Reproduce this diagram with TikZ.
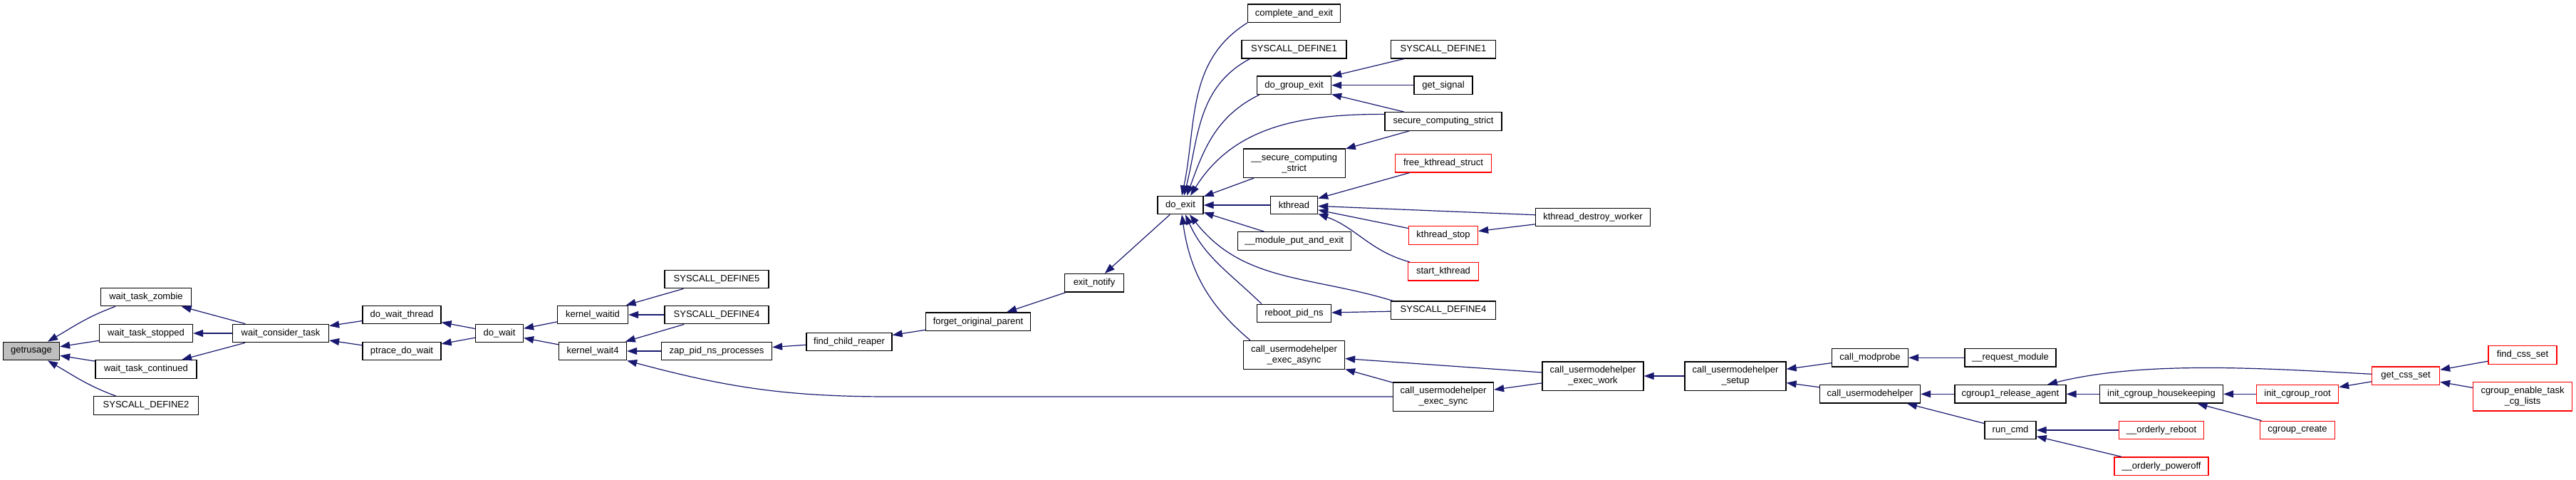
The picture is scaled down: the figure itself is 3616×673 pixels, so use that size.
\documentclass[tikz,border=0pt]{standalone}
\usepackage{fontspec}
\setmainfont{Liberation Sans}
\usetikzlibrary{arrows.meta}

\definecolor{edgeblue}{HTML}{191970}
\definecolor{rootgray}{HTML}{BFBFBF}

\tikzset{every picture/.style={line width=0.75pt}}
\tikzset{
	fn/.style={draw=black, line width=1.3pt, fill=white, inner sep=0pt, minimum height=25.5pt, align=center, font=\fontsize{13}{15}\selectfont},
	fntwo/.style={fn, minimum height=40.3pt},
	fnred/.style={fn, draw=red},
	fnroot/.style={fn, fill=rootgray},
	call/.style={draw=edgeblue, line width=1.2pt, -{Triangle[length=14pt,width=10pt]}}
}

\begin{document}
\begin{tikzpicture}[x=1pt,y=1pt,yscale=-1,xscale=1]
				\useasboundingbox (0,0) rectangle (3616,673);
				
				% Nodes: wait side
				\node[fnroot, minimum width=79pt] (getrusage) at (44,493) {getrusage};
				\node[fn, minimum width=127pt] (zombie) at (205,417) {wait\_task\_zombie};
				\node[fn, minimum width=131pt] (stopped) at (205,468) {wait\_task\_stopped};
				\node[fn, minimum width=142pt] (continued) at (205,518.5) {wait\_task\_continued};
				\node[fn, minimum width=147pt] (sd2) at (205,569.5) {SYSCALL\_DEFINE2};
				\node[fn, minimum width=135pt] (wct) at (394,468) {wait\_consider\_task};
				\node[fn, minimum width=110pt] (dwt) at (564,442) {do\_wait\_thread};
				\node[fn, minimum width=110pt] (ptrace) at (564,493) {ptrace\_do\_wait};
				\node[fn, minimum width=67pt] (dowait) at (701,468) {do\_wait};
				\node[fn, minimum width=99pt] (waitid) at (832,442) {kernel\_waitid};
				\node[fn, minimum width=95pt] (wait4) at (832,493) {kernel\_wait4};
				\node[fn, minimum width=146pt] (sd5) at (1006,392) {SYSCALL\_DEFINE5};
				\node[fn, minimum width=146pt] (sd4a) at (1006,442) {SYSCALL\_DEFINE4};
				\node[fn, minimum width=155pt] (zap) at (1006,493) {zap\_pid\_ns\_processes};
				\node[fn, minimum width=120pt] (fcr) at (1192,480) {find\_child\_reaper};
				\node[fn, minimum width=147pt] (fop) at (1373,451.7) {forget\_original\_parent};
				\node[fn, minimum width=83pt] (exitn) at (1536,397.3) {exit\_notify};
				\node[fn, minimum width=64pt] (doexit) at (1657,288) {do\_exit};
				
				% Nodes: callers of do_exit
				\node[fn, minimum width=130pt] (cae) at (1816.5,18.7) {complete\_and\_exit};
				\node[fn, minimum width=147pt] (sd1a) at (1816.5,69.3) {SYSCALL\_DEFINE1};
				\node[fn, minimum width=104pt] (dge) at (1816.5,119.7) {do\_group\_exit};
				\node[fntwo, minimum width=143pt] (sscs) at (1816.7,229.2) {\_\_secure\_computing\\\_strict};
				\node[fn, minimum width=66pt] (kthread) at (1816.5,288) {kthread};
				\node[fn, minimum width=159pt] (mpe) at (1816.7,338.5) {\_\_module\_put\_and\_exit};
				\node[fn, minimum width=104pt] (rpns) at (1816.5,440) {reboot\_pid\_ns};
				\node[fntwo, minimum width=142pt] (cuea) at (1816.5,498.5) {call\_usermodehelper\\\_exec\_async};
				
				\node[fn, minimum width=147pt] (sd1b) at (2026,69.3) {SYSCALL\_DEFINE1};
				\node[fn, minimum width=82pt] (getsig) at (2026,119.7) {get\_signal};
				\node[fn, minimum width=164pt] (scs) at (2026,170.5) {secure\_computing\_strict};
				\node[fnred, minimum width=135pt] (fks) at (2026,229.3) {free\_kthread\_struct};
				\node[fnred, minimum width=97pt] (kstop) at (2026,330.5) {kthread\_stop};
				\node[fnred, minimum width=99pt] (skt) at (2026,381.3) {start\_kthread};
				\node[fn, minimum width=147pt] (sd4b) at (2026,435.7) {SYSCALL\_DEFINE4};
				\node[fntwo, minimum width=141pt] (cues) at (2026,557) {call\_usermodehelper\\\_exec\_sync};
				
				\node[fn, minimum width=161pt] (kdw) at (2236,305) {kthread\_destroy\_worker};
				\node[fntwo, minimum width=142pt] (cuew) at (2236,528) {call\_usermodehelper\\\_exec\_work};
				\node[fntwo, minimum width=142pt] (cus) at (2436,528) {call\_usermodehelper\\\_setup};
				
				% Nodes: usermodehelper callers
				\node[fn, minimum width=107pt] (modprobe) at (2625,502.3) {call\_modprobe};
				\node[fn, minimum width=141pt] (cuh) at (2625,553.3) {call\_usermodehelper};
				\node[fn, minimum width=128pt] (reqmod) at (2822,502.3) {\_\_request\_module};
				\node[fn, minimum width=156pt] (cra) at (2822,553.3) {cgroup1\_release\_agent};
				\node[fn, minimum width=72pt] (runcmd) at (2822,604) {run\_cmd};
				\node[fn, minimum width=173pt] (ich) at (3034,553.3) {init\_cgroup\_housekeeping};
				\node[fnred, minimum width=119pt] (oreboot) at (3034,604) {\_\_orderly\_reboot};
				\node[fnred, minimum width=132pt] (opoweroff) at (3034,654.7) {\_\_orderly\_poweroff};
				\node[fnred, minimum width=115pt] (icr) at (3225,553.3) {init\_cgroup\_root};
				\node[fnred, minimum width=105pt] (ccreate) at (3225,604) {cgroup\_create};
				\node[fnred, minimum width=95pt] (gcs) at (3377,527.8) {get\_css\_set};
				\node[fnred, minimum width=96pt] (fcs) at (3541,498.5) {find\_css\_set};
				\node[fnred, minimum width=139pt, minimum height=40.3pt] (cetcl) at (3541,556.8) {cgroup\_enable\_task\\\_cg\_lists};
				
				% Edges into getrusage (angles are flipped by yscale=-1)
				\draw[call] ([xshift=21pt]zombie.south west) to[out=160,in=-30] ([xshift=23pt]getrusage.north);
				\draw[call] (stopped) -- (getrusage);
				\draw[call] (continued) -- (getrusage);
				\draw[call] ([xshift=32pt]sd2.north west) to[out=200,in=30] ([xshift=23pt]getrusage.south);
				% wait chain
				\draw[call] (wct) -- (zombie);
				\draw[call] (wct) -- (stopped);
				\draw[call] (wct) -- (continued);
				\draw[call] (dwt) -- (wct);
				\draw[call] (ptrace) -- (wct);
				\draw[call] (dowait) -- (dwt);
				\draw[call] (dowait) -- (ptrace);
				\draw[call] (waitid) -- (dowait);
				\draw[call] (wait4) -- (dowait);
				\draw[call] (sd5) -- (waitid);
				\draw[call] (sd4a) -- (waitid);
				\draw[call] (sd4a) -- (wait4);
				\draw[call] (zap) -- (wait4);
				\draw[call] (cues.west) -- ++(-705,0) to[out=180,in=15] (wait4.south east);
				\draw[call] (fcr) -- (zap);
				\draw[call] (fop) -- (fcr);
				\draw[call] (exitn) -- (fop);
				\draw[call] (doexit) -- (exitn);
				% into do_exit
				\draw[call] (cae.south west) to[out=148,in=-78] ([xshift=2pt]doexit.north);
				\draw[call] ([xshift=12pt]sd1a.south west) to[out=152,in=-76] ([xshift=5pt]doexit.north);
				\draw[call] ([xshift=4pt]dge.south west) to[out=154,in=-70] ([xshift=9pt]doexit.north);
				\draw[call] (scs.173) to[out=180,in=-58] ([xshift=14pt]doexit.north);
				\draw[call] (sscs) -- (doexit);
				\draw[call] (kthread) -- (doexit);
				\draw[call] (mpe) -- (doexit);
				\draw[call] ([xshift=3pt]sd4b.north west) to[out=197,in=52] ([xshift=13pt]doexit.south);
				\draw[call] ([xshift=7pt]rpns.north west) to[out=224,in=66] ([xshift=7pt]doexit.south);
				\draw[call] ([xshift=10pt]cuea.north west) to[out=220,in=82] ([xshift=2pt]doexit.south);
				% do_group_exit, kthread
				\draw[call] (sd1b) -- (dge);
				\draw[call] (getsig) -- (dge);
				\draw[call] (scs) -- (dge);
				\draw[call] (scs) -- (sscs);
				\draw[call] (fks) -- (kthread);
				\draw[call] (kdw) -- (kthread);
				\draw[call] (kstop) -- (kthread);
				\draw[call] ([xshift=-47pt]skt.north) to[out=195,in=20] (kthread.-20);
				\draw[call] (kdw) -- (kstop);
				\draw[call] (sd4b) -- (rpns);
				% usermodehelper
				\draw[call] (cuew) -- (cuea);
				\draw[call] (cues) -- (cuea);
				\draw[call] (cuew) -- (cues);
				\draw[call] (cus) -- (cuew);
				\draw[call] (modprobe) -- (cus);
				\draw[call] (cuh) -- (cus);
				\draw[call] (reqmod) -- (modprobe);
				\draw[call] (cra) -- (cuh);
				\draw[call] (runcmd) -- (cuh);
				\draw[call] (ich) -- (cra);
				\draw[call] (gcs.177) to[out=183,in=-14,looseness=0.8] ([xshift=52pt]cra.north);
				\draw[call] (icr) -- (ich);
				\draw[call] (ccreate) -- (ich);
				\draw[call] (gcs) -- (icr);
				\draw[call] (fcs) -- (gcs);
				\draw[call] (cetcl) -- (gcs);
				\draw[call] (oreboot) -- (runcmd);
				\draw[call] (opoweroff) -- (runcmd);
				
\end{tikzpicture}
\end{document}
